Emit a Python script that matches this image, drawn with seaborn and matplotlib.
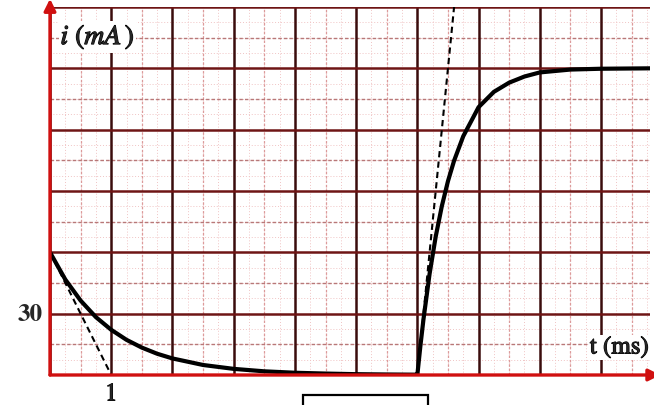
import numpy as np
import pandas as pd
import matplotlib
matplotlib.use("Agg")
import matplotlib.pyplot as plt
import matplotlib.patches as mpatches
import matplotlib.patheffects as pe
import seaborn as sns

# Current through the coil (mA) versus time (ms)
decay_t = [0, 0.25, 0.5, 0.75, 1.0, 1.25, 1.5, 1.75, 2.0, 2.5, 3.0, 3.5, 4.0, 4.5, 5.0, 5.5, 6.0]
decay_i = [60, 46.7, 36.4, 28.3, 22.1, 17.2, 13.4, 10.4, 8.1, 4.9, 3.0, 1.8, 1.1, 0.7, 0.4, 0.25, 0.15]
rise_t = [6.0, 6.05, 6.1, 6.2, 6.3, 6.4, 6.5, 6.6, 6.75, 6.9, 7.0, 7.25, 7.5, 7.75, 8.0, 8.5, 9.0, 9.8]
rise_i = [0, 14.3, 27.2, 49.5, 67.7, 82.6, 94.8, 104.8, 116.8, 125.3, 131.0, 138.5, 143.0, 146.0, 148.0, 149.4, 149.8, 150]
tangent1_t = [0, 1]
tangent1_i = [60, 0]
tangent2_t = [6.0, 6.6]
tangent2_i = [0, 180]

x_major = list(range(0, 10))
y_major = [0, 30, 60, 90, 120, 150, 180]
y_tick_label = "30"
x_tick_label = "1"

curve = pd.DataFrame({"t": decay_t + rise_t, "i": decay_i + rise_i})
tan1 = pd.DataFrame({"t": tangent1_t, "i": tangent1_i})
tan2 = pd.DataFrame({"t": tangent2_t, "i": tangent2_i})

sns.set_style("white")
plt.rcParams["mathtext.fontset"] = "stix"

fig = plt.figure(figsize=(6.54, 4.06), dpi=100)
ax = fig.add_axes([50 / 654, 30 / 406, 600 / 654, 368 / 406])
ax.set_xlim(0, 9.8)
ax.set_ylim(0, 180)

# graph-paper background: fine dotted, half-unit dashed, unit solid lines
for x in np.arange(0, 9.8, 0.25):
    ax.axvline(x, color="#f0c4c4", lw=0.7, ls=(0, (1, 2)), zorder=1)
for y in np.arange(0, 180, 7.5):
    ax.axhline(y, color="#f0c4c4", lw=0.7, ls=(0, (1, 2)), zorder=1)
for x in np.arange(0.5, 9.8, 1.0):
    ax.axvline(x, color="#dc9a9a", lw=0.9, ls=(0, (2, 1.5)), zorder=1.5)
for y in np.arange(15, 180, 30):
    ax.axhline(y, color="#b87878", lw=1.0, ls=(0, (2.5, 1.5)), zorder=1.5)
for x in x_major:
    ax.axvline(x, color="#3a0c0c", lw=1.8, zorder=2)
for y in y_major:
    ax.axhline(y, color="#6e1515", lw=1.8, zorder=2)

sns.lineplot(data=curve, x="t", y="i", ax=ax, color="black", lw=3.0,
             sort=False, estimator=None, zorder=5)
sns.lineplot(data=tan1, x="t", y="i", ax=ax, color="black", lw=1.5,
             ls=(0, (3, 2)), estimator=None, zorder=4)
sns.lineplot(data=tan2, x="t", y="i", ax=ax, color="black", lw=1.5,
             ls=(0, (3, 2)), estimator=None, zorder=4)

for s in ax.spines.values():
    s.set_visible(False)
ax.set_xticks([])
ax.set_yticks([])
ax.set_xlabel("")
ax.set_ylabel("")

# red axes with arrow heads
ax.annotate("", xy=(9.97, 0), xytext=(0, 0), xycoords="data",
            arrowprops=dict(arrowstyle="-|>,head_length=0.7,head_width=0.35",
                            color="#d01010", lw=2.4, shrinkA=0, shrinkB=0),
            annotation_clip=False, zorder=6)
ax.annotate("", xy=(0, 184), xytext=(0, 0), xycoords="data",
            arrowprops=dict(arrowstyle="-|>,head_length=0.7,head_width=0.35",
                            color="#d01010", lw=2.4, shrinkA=0, shrinkB=0),
            annotation_clip=False, zorder=6)

serif = "STIXGeneral"
heavy = [pe.withStroke(linewidth=0.8, foreground="black")]
ax.text(0.17, 165.5, r"$i$ $($$mA$$\,)$", fontsize=20, family=serif,
        ha="left", va="center", zorder=7, path_effects=heavy,
        bbox=dict(facecolor="white", edgecolor="none", pad=1.0))
ax.text(9.78, 13.5, "t (ms)", fontsize=18, family=serif, ha="right", va="center",
        zorder=7, path_effects=heavy,
        bbox=dict(facecolor="white", edgecolor="none", pad=0.5))
ax.text(-0.12, 30, y_tick_label, fontsize=18, family=serif, fontweight="bold",
        ha="right", va="center", zorder=7)
ax.text(1.0, -9.5, x_tick_label, fontsize=18, family=serif, ha="center",
        va="center", zorder=7, path_effects=heavy)

# empty answer box below the time axis
fig.patches.append(mpatches.Rectangle((303 / 654, -0.01), 125 / 654, 14 / 406,
                                      transform=fig.transFigure, fill=False,
                                      edgecolor="black", lw=1.6))

fig.savefig("out.png", dpi=100)
